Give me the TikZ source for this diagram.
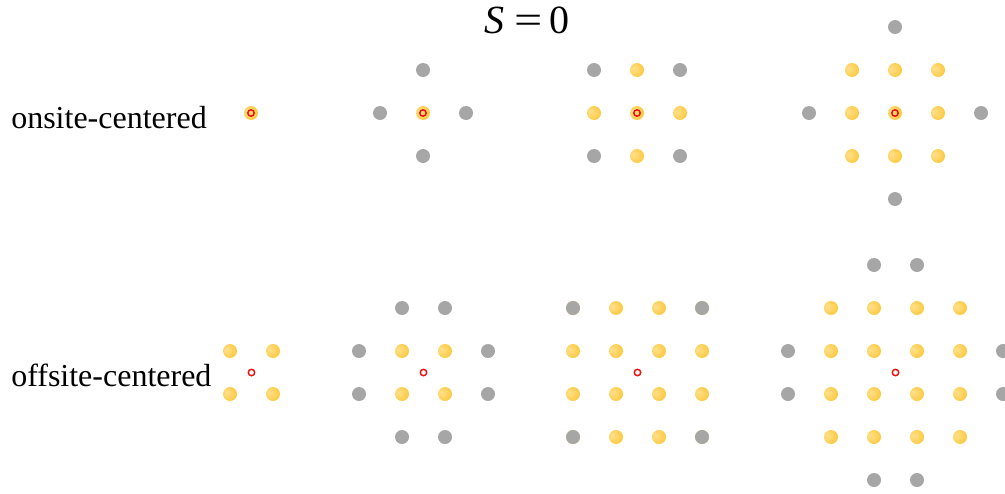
\documentclass[tikz,border=0pt]{standalone}
\usepackage{fontspec}
\setmainfont{Liberation Serif}
\definecolor{yd}{HTML}{FCC940}
\definecolor{yl}{HTML}{FFE08C}
\definecolor{gr}{HTML}{A6A6A6}
\definecolor{rc}{HTML}{F01010}
\pgfdeclareradialshading{yball}{\pgfpoint{-14bp}{6bp}}{color(0bp)=(yl); color(32bp)=(yd); color(50bp)=(yd); color(70bp)=(yd)}
\tikzset{
  ydot/.style={shading=yball},
  gdot/.style={fill=gr},
  rcirc/.style={draw=rc, line width=1.1pt}
}
\newcommand{\Yd}[2]{\path[ydot] (#1,#2) circle[radius=7];}
\newcommand{\Gd}[2]{\path[gdot] (#1,#2) circle[radius=7];}
\newcommand{\Rc}[2]{\draw[rcirc] (#1,#2) circle[radius=3.2];}
\begin{document}
\begin{tikzpicture}[x=0.75pt,y=-0.75pt]
\useasboundingbox (0,0) rectangle (1005,493);
\clip (0,0) rectangle (1005,493);
% title
\node[font=\fontsize{30}{34}\selectfont, inner sep=0] (title) at (527,20) {{\itshape S}\hspace{7pt}{\scalebox{1.25}[1]{=}}\hspace{5pt}0};
\node[font=\fontsize{24}{28}\selectfont, anchor=west, inner sep=0] (lon) at (11,118) {onsite-centered};
\node[font=\fontsize{24}{28}\selectfont, anchor=west, inner sep=0] (loff) at (11,375) {offsite-centered};
% onsite 1
\Yd{251}{113}\Rc{251}{113}
% onsite 2
\Yd{423}{113}
\Gd{380}{113}\Gd{466}{113}\Gd{423}{70}\Gd{423}{156}
\Rc{423}{113}
% onsite 3
\foreach \x/\y in {637/113,594/113,680/113,637/70,637/156} {\Yd{\x}{\y}}
\foreach \x/\y in {594/70,680/70,594/156,680/156} {\Gd{\x}{\y}}
\Rc{637}{113}
% onsite 4
\foreach \x in {852,895,938} {\foreach \y in {70,113,156} {\Yd{\x}{\y}}}
\foreach \x/\y in {895/27,895/199,809/113,981/113} {\Gd{\x}{\y}}
\Rc{895}{113}
% offsite 1
\foreach \x in {230,273} {\foreach \y in {351,394} {\Yd{\x}{\y}}}
\Rc{251.5}{372.5}
% offsite 2
\foreach \x in {402,445} {\foreach \y in {351,394} {\Yd{\x}{\y}}}
\foreach \x/\y in {402/308,445/308,359/351,488/351,359/394,488/394,402/437,445/437} {\Gd{\x}{\y}}
\Rc{423.5}{372.5}
% offsite 3
\foreach \x in {573,616,659,702} {\foreach \y in {308,351,394,437} {\Yd{\x}{\y}}}
\foreach \x/\y in {573/308,702/308,573/437,702/437} {\Gd{\x}{\y}}
\Rc{637.5}{372.5}
% offsite 4
\foreach \x in {831,874,917,960} {\foreach \y in {308,351,394,437} {\Yd{\x}{\y}}}
\foreach \x/\y in {874/265,917/265,874/480,917/480,788/351,788/394,1003/351,1003/394} {\Gd{\x}{\y}}
\Rc{895.5}{372.5}
\end{tikzpicture}
\end{document}
